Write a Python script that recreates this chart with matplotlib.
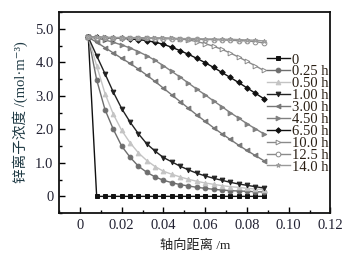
import matplotlib
matplotlib.use("Agg")
import matplotlib.pyplot as plt
from matplotlib.ticker import FixedLocator, MultipleLocator, FixedFormatter

plt.rcParams['font.family'] = ['Liberation Serif', 'Noto Sans CJK SC', 'DejaVu Sans']

x = [0.004, 0.008, 0.012, 0.016, 0.020, 0.024, 0.028, 0.032, 0.036, 0.040, 0.044,
     0.048, 0.052, 0.056, 0.060, 0.064, 0.068, 0.072, 0.076, 0.080, 0.084, 0.088]

labels = ["0", "0.25 h", "0.50 h", "1.00 h", "3.00 h", "4.50 h", "6.50 h", "10.0 h", "12.5 h", "14.0 h"]

c_0 = [4.75, 0, 0, 0, 0, 0, 0, 0, 0, 0, 0, 0, 0, 0, 0, 0, 0, 0, 0, 0, 0, 0]
c_025 = [4.75, 3.48, 2.59, 2.00, 1.50, 1.17, 0.90, 0.72, 0.58, 0.48, 0.41, 0.35,
         0.31, 0.27, 0.24, 0.21, 0.19, 0.17, 0.16, 0.15, 0.14, 0.13]
c_050 = [4.75, 3.90, 3.07, 2.45, 1.97, 1.60, 1.30, 1.07, 0.89, 0.75, 0.66, 0.58,
         0.51, 0.45, 0.40, 0.36, 0.32, 0.29, 0.27, 0.24, 0.22, 0.20]
c_100 = [4.75, 4.20, 3.66, 3.11, 2.62, 2.22, 1.87, 1.57, 1.35, 1.16, 1.03, 0.90,
         0.79, 0.69, 0.61, 0.54, 0.48, 0.42, 0.37, 0.33, 0.29, 0.25]
c_300 = [4.75, 4.60, 4.44, 4.28, 4.12, 3.97, 3.80, 3.62, 3.43, 3.23, 3.03, 2.83,
         2.63, 2.43, 2.24, 2.05, 1.87, 1.70, 1.53, 1.37, 1.22, 1.07]
c_450 = [4.75, 4.72, 4.67, 4.60, 4.52, 4.43, 4.32, 4.20, 4.06, 3.90, 3.73, 3.56,
         3.38, 3.20, 3.03, 2.85, 2.68, 2.50, 2.34, 2.17, 2.02, 1.87]
c_650 = [4.75, 4.75, 4.74, 4.73, 4.72, 4.70, 4.68, 4.65, 4.60, 4.54, 4.45, 4.35,
         4.24, 4.12, 3.99, 3.85, 3.70, 3.55, 3.40, 3.24, 3.08, 2.92]
c_1000 = [4.75, 4.75, 4.75, 4.74, 4.74, 4.74, 4.74, 4.73, 4.73, 4.73, 4.72, 4.70,
          4.67, 4.62, 4.56, 4.48, 4.39, 4.28, 4.16, 4.03, 3.90, 3.76]
c_1250 = [4.75, 4.74, 4.74, 4.73, 4.73, 4.72, 4.72, 4.72, 4.71, 4.71, 4.70, 4.70,
          4.69, 4.69, 4.68, 4.68, 4.67, 4.66, 4.65, 4.64, 4.62, 4.58]
c_1400 = [4.75, 4.75, 4.74, 4.74, 4.74, 4.73, 4.73, 4.73, 4.72, 4.72, 4.72, 4.71,
          4.71, 4.71, 4.70, 4.70, 4.69, 4.69, 4.68, 4.67, 4.66, 4.64]

series = [c_0, c_025, c_050, c_100, c_300, c_450, c_650, c_1000, c_1250, c_1400]

styles = [
    dict(color='#111111', marker='s', mfc='#111111', mec='#111111'),
    dict(color='#6e6e6e', marker='o', mfc='#6e6e6e', mec='#6e6e6e'),
    dict(color='#c4c4c4', marker='^', mfc='#c4c4c4', mec='#c4c4c4'),
    dict(color='#222222', marker='v', mfc='#222222', mec='#222222'),
    dict(color='#777777', marker='<', mfc='#777777', mec='#777777'),
    dict(color='#808080', marker='>', mfc='#808080', mec='#808080'),
    dict(color='#111111', marker='D', mfc='#111111', mec='#111111'),
    dict(color='#8a8a8a', marker='>', mfc='white', mec='#8a8a8a'),
    dict(color='#8a8a8a', marker='o', mfc='white', mec='#8a8a8a'),
    dict(color='#9a9a9a', marker='*', mfc='#b0b0b0', mec='#9a9a9a'),
]

fig = plt.figure(figsize=(3.56, 2.58), dpi=100)
ax = fig.add_axes([0.166, 0.174, 0.762, 0.779])

for ys, lab, st in zip(series, labels, styles):
    ms = 3.4 if st['marker'] not in ('D', 's') else 2.8
    ax.plot(x, ys, lw=1.0, ms=ms, mew=0.7, label=lab, **st)

ax.set_xlim(-0.01, 0.12)
ax.set_ylim(-0.5, 5.5)

xt = [0, 0.02, 0.04, 0.06, 0.08, 0.10, 0.12]
xtl = ["0", "0.02", "0.04", "0.06", "0.08", "0.10", "0.12"]
yt = [0, 1, 2, 3, 4, 5]
ytl = ["0", "1.0", "2.0", "3.0", "4.0", "5.0"]
ax.xaxis.set_major_locator(FixedLocator(xt))
ax.xaxis.set_major_formatter(FixedFormatter(xtl))
ax.yaxis.set_major_locator(FixedLocator(yt))
ax.yaxis.set_major_formatter(FixedFormatter(ytl))
ax.xaxis.set_minor_locator(MultipleLocator(0.01))
ax.yaxis.set_minor_locator(MultipleLocator(0.5))
ax.tick_params(which='both', direction='in', top=False, right=False,
               labelsize=10.5, labelcolor='#222233', width=1.0)
ax.tick_params(which='major', length=4, pad=4)
ax.tick_params(which='minor', length=2.5)
for sp in ax.spines.values():
    sp.set_linewidth(1.3)
    sp.set_color('#111111')

ax.set_xlabel("轴向距离 /m", fontsize=9.5, color='#222222', labelpad=6)
ax.set_ylabel("锌离子浓度 /(mol·m⁻³)", fontsize=10.5, color='#1f3a44', labelpad=5)

leg = ax.legend(loc='upper left', bbox_to_anchor=(0.765, 0.795), frameon=False,
                fontsize=10.5, handlelength=1.6, handletextpad=0.12,
                labelspacing=-0.09, borderaxespad=0, borderpad=0)
for t in leg.get_texts():
    t.set_color('#2a1f14')

fig.savefig("out.png", dpi=100)
